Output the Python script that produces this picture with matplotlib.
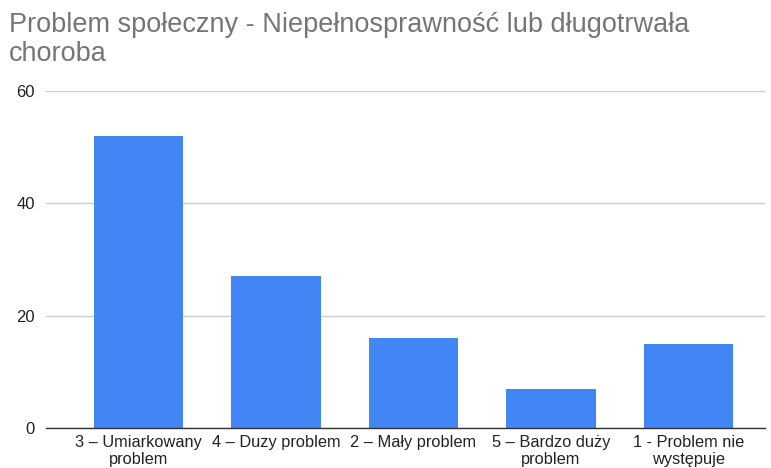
import matplotlib
matplotlib.use("Agg")
import matplotlib.pyplot as plt

plt.rcParams['font.family'] = ['Liberation Sans', 'DejaVu Sans']

categories = ["3 – Umiarkowany\nproblem", "4 – Duzy problem", "2 – Mały problem",
              "5 – Bardzo duży\nproblem", "1 - Problem nie\nwystępuje"]
values = [52, 27, 16, 7, 15]
yticks = [0, 20, 40, 60]
title = "Problem społeczny - Niepełnosprawność lub długotrwała\nchoroba"

W, H = 771, 468
fig = plt.figure(figsize=(W/100, H/100), dpi=100)
ax = fig.add_axes([46/W, 1-428/H, (765-46)/W, (428-91)/H])

x = list(range(len(categories)))
ax.bar(x, values, width=0.65, color="#4285F4", zorder=3)
ax.set_xlim(-0.673, 4.556)
ax.set_ylim(0, 60)
ax.set_yticks(yticks)
ax.set_yticklabels([str(v) for v in yticks], fontsize=12, color="#222222")
ax.set_xticks(x)
ax.set_xticklabels(categories, fontsize=11.8, color="#222222", linespacing=1.2)
ax.tick_params(axis='both', length=0)
ax.tick_params(axis='y', pad=8)
ax.tick_params(axis='x', pad=5)
ax.grid(axis='y', color="#cccccc", linewidth=1, zorder=0)
for s in ["top", "right", "left"]:
    ax.spines[s].set_visible(False)
ax.spines["bottom"].set_color("#333333")
ax.spines["bottom"].set_linewidth(1)
ax.spines["bottom"].set_zorder(4)

fig.text(9/W, 1-12/H, title, fontsize=19.5, color="#757575", va="top", ha="left", linespacing=1.13)

fig.savefig("out.png", dpi=100)
